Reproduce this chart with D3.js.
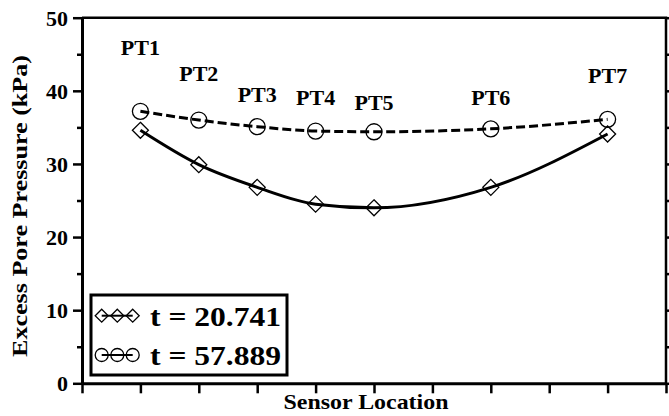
<!DOCTYPE html>
<html>
<head>
<meta charset="utf-8">
<script src="https://cdn.jsdelivr.net/npm/d3@7"></script>
<style>
  html, body { margin: 0; padding: 0; background: #fff; }
  svg { display: block; }
</style>
</head>
<body>
<svg id="chart" width="669" height="416"></svg>
<script>
// ---- data ----
const sensors = ["PT1", "PT2", "PT3", "PT4", "PT5", "PT6", "PT7"];
const sensorPos = [1, 2, 3, 4, 5, 7, 9];            // x location (tick index)
const pressureT1 = [34.6, 29.9, 26.8, 24.5, 24.0, 26.8, 34.1];   // t = 20.741
const pressureT2 = [37.2, 36.0, 35.1, 34.5, 34.4, 34.8, 36.1];   // t = 57.889
const labelLevel = [44.9, 41.3, 38.5, 38.0, 37.4, 38.1, 41.1];   // label baseline (kPa)
const seriesNames = ["t = 20.741", "t = 57.889"];
const yTicks = [0, 10, 20, 30, 40, 50];
const yMinorTicks = [5, 15, 25, 35, 45];
const xTicks = [0, 1, 2, 3, 4, 5, 6, 7, 8, 9, 10];
const yTitle = "Excess Pore Pressure (kPa)";
const xTitle = "Sensor Location";

const FONT = "Liberation Serif";

// ---- layout ----
const svg = d3.select("#chart");
const L = 82, R = 666, T = 17.7, B = 383.3;
const x = d3.scaleLinear().domain([0, 10]).range([L, R]);
const y = d3.scaleLinear().domain([0, 50]).range([B, T]);

svg.append("path")
  .attr("d", `M${L},${T}H${R}V${B}`)
  .attr("fill", "none").attr("stroke", "#000").attr("stroke-width", 2.5);

svg.append("g").attr("transform", `translate(${R},0)`)
  .call(d3.axisRight(y).tickValues([...yTicks, ...yMinorTicks]).tickSize(5).tickFormat(""))
  .call(g => g.select(".domain").remove())
  .call(g => g.selectAll("line").attr("stroke-width", 2.5));

svg.append("g").attr("transform", `translate(0,${B})`)
  .call(d3.axisBottom(x).tickValues(xTicks).tickSize(10).tickFormat("").tickSizeOuter(0))
  .call(g => g.select(".domain").attr("stroke-width", 3))
  .call(g => g.selectAll(".tick line").attr("stroke-width", 2.5));

const yAx = svg.append("g").attr("transform", `translate(${L},0)`)
  .call(d3.axisLeft(y).tickValues(yTicks).tickSize(9).tickSizeOuter(0).tickPadding(5).tickFormat(d3.format("d")));
yAx.select(".domain").attr("stroke-width", 3);
yAx.selectAll(".tick line").attr("stroke-width", 2.5);
yAx.selectAll(".tick text")
  .style("font-family", FONT).style("font-weight", "bold")
  .style("font-size", "22px").attr("dy", "0.34em").attr("fill", "#000");
svg.append("g").attr("transform", `translate(${L},0)`)
  .call(d3.axisLeft(y).tickValues(yMinorTicks).tickSize(5).tickFormat(""))
  .call(g => g.select(".domain").remove())
  .call(g => g.selectAll("line").attr("stroke-width", 2.5));

svg.append("text")
  .attr("transform", `translate(27,206) rotate(-90)`)
  .attr("text-anchor", "middle")
  .attr("textLength", 302).attr("lengthAdjust", "spacingAndGlyphs")
  .style("font-family", FONT).style("font-weight", "bold").style("font-size", "22px")
  .text(yTitle);
svg.append("text")
  .attr("x", 366).attr("y", 409)
  .attr("text-anchor", "middle")
  .attr("textLength", 165).attr("lengthAdjust", "spacingAndGlyphs")
  .style("font-family", FONT).style("font-weight", "bold").style("font-size", "21px")
  .text(xTitle);

const line = d3.line().curve(d3.curveMonotoneX);
const pts1 = sensorPos.map((p, i) => [x(p), y(pressureT1[i])]);
const pts2 = sensorPos.map((p, i) => [x(p), y(pressureT2[i])]);

svg.append("path").attr("d", line(pts2))
  .attr("fill", "none").attr("stroke", "#000").attr("stroke-width", 3)
  .attr("stroke-dasharray", "9,4");
svg.append("path").attr("d", line(pts1))
  .attr("fill", "none").attr("stroke", "#000").attr("stroke-width", 3);

function diamond(g, cx, cy, r) {
  g.append("path")
    .attr("d", `M${cx},${cy - r}L${cx + r},${cy}L${cx},${cy + r}L${cx - r},${cy}Z`)
    .attr("fill", "none").attr("stroke", "#000").attr("stroke-width", 1.3);
}
function circle(g, cx, cy, r) {
  g.append("circle").attr("cx", cx).attr("cy", cy).attr("r", r)
    .attr("fill", "none").attr("stroke", "#000").attr("stroke-width", 1.3);
}
const mk = svg.append("g");
pts1.forEach(p => diamond(mk, p[0], p[1], 8));
pts2.forEach(p => circle(mk, p[0], p[1], 8));

svg.append("g").selectAll("text").data(sensors).join("text")
  .attr("x", (d, i) => x(sensorPos[i]))
  .attr("y", (d, i) => y(labelLevel[i]))
  .attr("text-anchor", "middle")
  .style("font-family", FONT).style("font-weight", "bold").style("font-size", "22px")
  .text(d => d);

const lg = svg.append("g");
lg.append("rect").attr("x", 91).attr("y", 295).attr("width", 196).attr("height", 80)
  .attr("fill", "#fff").attr("stroke", "#000").attr("stroke-width", 3);
const rowsY = [315.7, 355];
const symX = [101.7, 117.3, 132.7];
seriesNames.forEach((name, i) => {
  const ry = rowsY[i];
  lg.append("line").attr("x1", symX[0]).attr("x2", symX[2]).attr("y1", ry).attr("y2", ry)
    .attr("stroke", "#000").attr("stroke-width", 2);
  symX.forEach(sx => i === 0 ? diamond(lg, sx, ry, 6.5) : circle(lg, sx, ry, 6.5));
  lg.append("text").attr("x", 150).attr("y", ry + 10.3)
    .attr("textLength", 131).attr("lengthAdjust", "spacingAndGlyphs")
    .style("font-family", FONT).style("font-weight", "bold").style("font-size", "28px")
    .text(name);
});
</script>
</body>
</html>
